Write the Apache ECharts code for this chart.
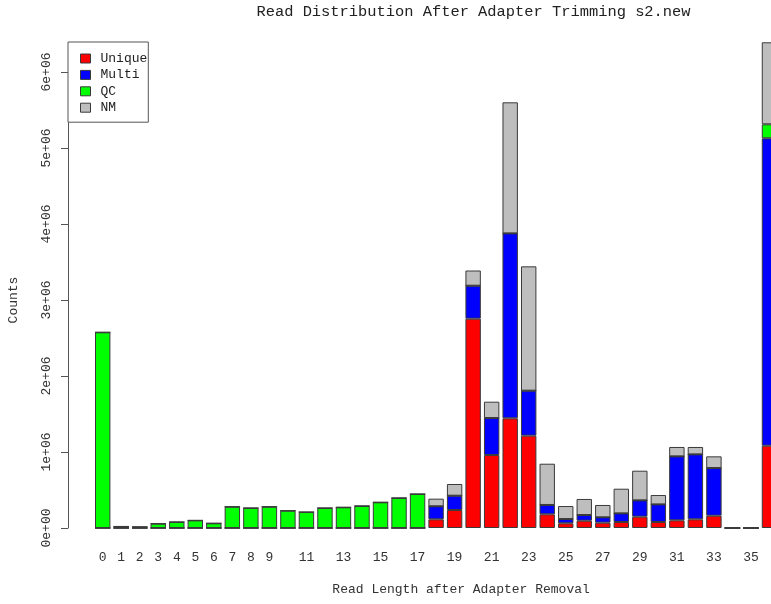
<!DOCTYPE html>
<html>
<head>
<meta charset="utf-8">
<script src="https://cdn.jsdelivr.net/npm/echarts@6/dist/echarts.min.js"></script>
<style>
html,body{margin:0;padding:0;background:#fff;}
#chart{width:771px;height:604px;}
</style>
</head>
<body>
<div id="chart"></div>
<script>
// ---- data (counts, in units of reads) ----
var categories = ['0','1','2','3','4','5','6','7','8','9','10','11','12','13','14','15','16','17','18','19','20','21','22','23','24','25','26','27','28','29','30','31','32','33','34','35','36'];
var shownXLabels = ['0','1','2','3','4','5','6','7','8','9','11','13','15','17','19','21','23','25','27','29','31','33','35'];
var uniqueVals = [0,0,0,0,0,0,0,0,0,0,0,0,0,0,0,0,0,0,
  114000,237000,2754000,960000,1443000,1215000,180000,62000,96000,70000,79000,149000,79000,101000,114000,162000,0,0,1083000];
var multiVals = [0,0,0,0,0,0,0,0,0,0,0,0,0,0,0,0,0,0,
  172000,188000,434000,487000,2434000,592000,123000,56000,75000,71000,114000,215000,232000,842000,855000,627000,0,0,4045000];
var qcVals = [2575000,20000,15000,57000,79000,100000,62000,280000,263000,280000,228000,210000,263000,272000,290000,338000,395000,447000,
  0,0,0,0,0,0,0,0,0,0,0,0,0,0,0,0,0,0,184000];
var nmVals = [0,0,0,0,0,0,0,0,0,0,0,0,0,0,0,0,0,0,
  100000,154000,200000,215000,1724000,1636000,543000,171000,211000,162000,324000,390000,123000,123000,97000,154000,0,0,1079000];
var yTickLabels = ['0e+00','1e+06','2e+06','3e+06','4e+06','5e+06','6e+06'];
var seriesNames = ['Unique','Multi','QC','NM'];
var seriesColors = ['#ff0000','#0000ff','#00ff00','#bebebe'];

var FONT = '"Liberation Mono", "DejaVu Sans Mono", monospace';
var chart = echarts.init(document.getElementById('chart'), null, {renderer:'canvas'});

var dataSets = [uniqueVals, multiVals, qcVals, nmVals];
var series = dataSets.map(function(d, i){
  return {
    name: seriesNames[i],
    type: 'bar',
    stack: 'total',
    data: d,
    barWidth: 15.4,
    clip: false,
    itemStyle: {color: seriesColors[i], borderColor: '#3a3a3a', borderWidth: 1},
    emphasis: {disabled: true}
  };
});

chart.setOption({
  animation: false,
  backgroundColor: '#ffffff',
  title: {
    text: 'Read Distribution After Adapter Trimming s2.new',
    left: 473.5,
    top: 4,
    padding: 0,
    textAlign: 'center',
    textStyle: {fontFamily: FONT, fontSize: 15.4, fontWeight: 'normal', color: '#222'}
  },
  legend: {
    orient: 'vertical',
    left: 68,
    top: 42,
    padding: [10, 1, 8, 12],
    itemWidth: 10,
    itemHeight: 9,
    itemGap: 3.4,
    icon: 'rect',
    borderColor: '#555',
    borderWidth: 1,
    backgroundColor: '#fff',
    selectedMode: false,
    itemStyle: {borderColor: '#3a3a3a', borderWidth: 1},
    textStyle: {fontFamily: FONT, fontSize: 13, color: '#222', padding: [0,0,0,5]},
    data: seriesNames
  },
  grid: {left: 93.44, width: 685.3, top: 72, bottom: 76, containLabel: false, outerBoundsMode: 'none'},
  xAxis: {
    type: 'category',
    data: categories,
    axisLine: {show: false},
    axisTick: {show: false},
    axisLabel: {
      interval: 0,
      margin: 23,
      fontFamily: FONT, fontSize: 13, color: '#333',
      formatter: function(v){ return shownXLabels.indexOf(v) >= 0 ? v : ''; }
    },
    name: 'Read Length after Adapter Removal',
    nameLocation: 'middle',
    nameGap: 55,
    nameTextStyle: {fontFamily: FONT, fontSize: 13, color: '#333', padding: [0,0,0,50]}
  },
  yAxis: {
    type: 'value',
    min: 0,
    max: 6000000,
    interval: 1000000,
    offset: 25.44,
    splitLine: {show: false},
    axisLine: {show: true, lineStyle: {color: '#555', width: 1}},
    axisTick: {show: true, length: 7, lineStyle: {color: '#555'}},
    axisLabel: {
      rotate: 90,
      margin: 15,
      fontFamily: FONT, fontSize: 13, color: '#333',
      formatter: function(v){ return yTickLabels[Math.round(v/1000000)]; }
    },
    name: 'Counts',
    nameLocation: 'middle',
    nameGap: 48,
    nameTextStyle: {fontFamily: FONT, fontSize: 13, color: '#333'}
  },
  series: series
});
</script>
</body>
</html>
